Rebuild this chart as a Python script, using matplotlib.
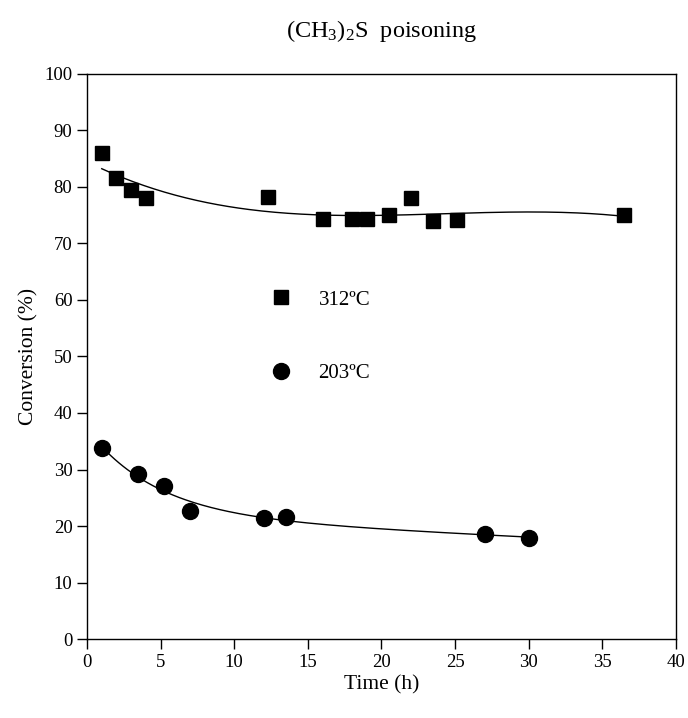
import numpy as np
import matplotlib.pyplot as plt

plt.rcParams['font.family'] = ['Liberation Serif', 'DejaVu Serif']
plt.rcParams['mathtext.fontset'] = 'custom'
plt.rcParams['mathtext.rm'] = 'Liberation Serif'
plt.rcParams['mathtext.it'] = 'Liberation Serif:italic'

# 312 C series
t_312 = [1.0, 2.0, 3.0, 4.0, 12.3, 16.0, 18.0, 19.0, 20.5, 22.0, 23.5, 25.1, 36.5]
conv_312 = [86.0, 81.5, 79.5, 78.1, 78.3, 74.3, 74.3, 74.4, 75.0, 78.0, 74.0, 74.1, 75.0]

# 203 C series
t_203 = [1.0, 3.45, 5.2, 7.0, 12.0, 13.5, 27.0, 30.0]
conv_203 = [33.8, 29.2, 27.1, 22.7, 21.4, 21.6, 18.5, 17.9]

xticks = list(range(0, 41, 5))
yticks = list(range(0, 101, 10))


def exp_lin_fit(t, c):
    # y = a + b*exp(-k t) + d*t, k picked by a coarse search
    t = np.asarray(t)
    c = np.asarray(c)
    best = None
    for k in np.linspace(0.02, 1.0, 300):
        A = np.column_stack([np.ones_like(t), np.exp(-k * t), t])
        coef, *_ = np.linalg.lstsq(A, c, rcond=None)
        err = np.sum((A @ coef - c) ** 2)
        if best is None or err < best[0]:
            best = (err, k, coef)
    _, k, coef = best
    return lambda x: coef[0] + coef[1] * np.exp(-k * x) + coef[2] * x


fig = plt.figure(figsize=(6.88, 7.18), dpi=100)
ax = fig.add_axes([0.1265, 0.110, 0.856, 0.787])

# fitted trend lines
p = np.polyfit(t_312, conv_312, 3)
xs = np.linspace(min(t_312), max(t_312), 200)
ax.plot(xs, np.polyval(p, xs), color='black', lw=1.0)

f203 = exp_lin_fit(t_203, conv_203)
xs = np.linspace(min(t_203), max(t_203), 200)
ax.plot(xs, f203(xs), color='black', lw=1.0)

ax.plot(t_312, conv_312, 's', color='black', ms=10, label='312ºC')
ax.plot(t_203, conv_203, 'o', color='black', ms=11.5, label='203ºC')

ax.set_xlim(0, 40)
ax.set_ylim(0, 100)
ax.set_xticks(xticks)
ax.set_yticks(yticks)
ax.tick_params(direction='out', length=7, width=1, labelsize=13.5)
ax.set_xlabel('Time (h)', fontsize=15.5, labelpad=3)
ax.set_ylabel('Conversion (%)', fontsize=15.5, labelpad=4)
for s in ax.spines.values():
    s.set_linewidth(1.0)

leg = ax.legend(loc='center left', bbox_to_anchor=(0.294, 0.535), frameon=False,
                fontsize=15, labelspacing=2.6, handletextpad=1.3, handlelength=1.0,
                borderpad=0)

fig.suptitle('(CH$_3$)$_2$S  poisoning', x=0.554, y=0.975, fontsize=17.5)

fig.savefig('out.png', dpi=100)
